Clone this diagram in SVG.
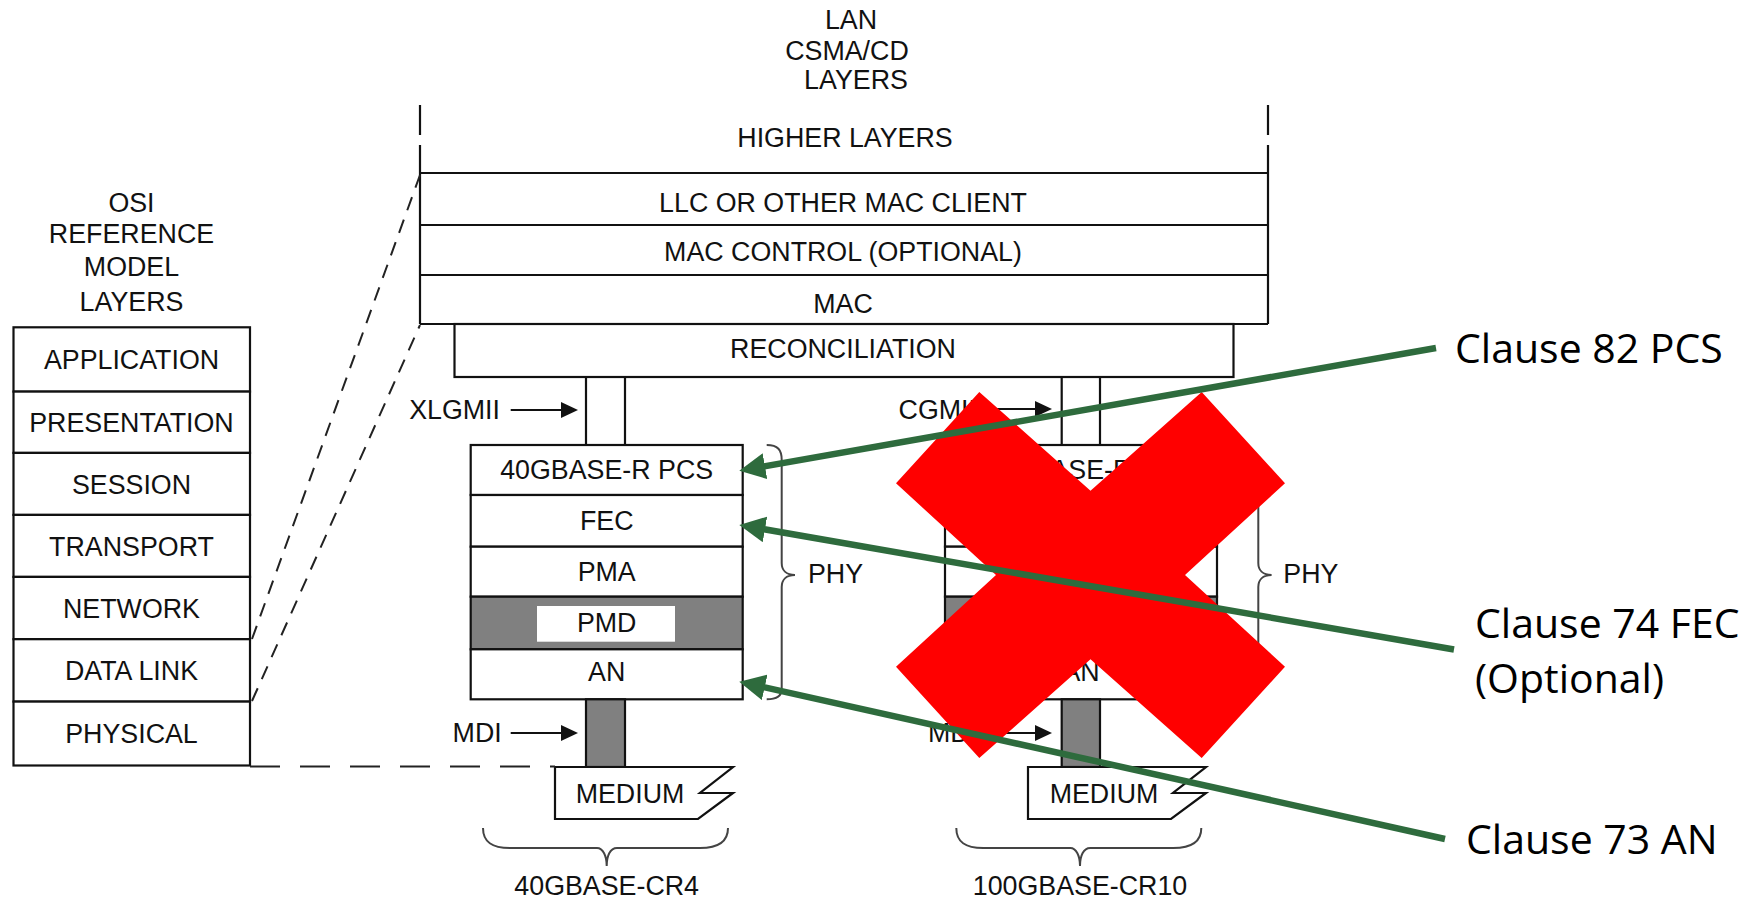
<svg xmlns="http://www.w3.org/2000/svg" width="1762" height="901" viewBox="0 0 1762 901">
<style>
.t{font-family:"Liberation Sans",Arial,sans-serif;font-size:26.8px;fill:#111;text-anchor:middle}
.te{font-family:"Liberation Sans",Arial,sans-serif;font-size:26.8px;fill:#111;text-anchor:end}
.tl{font-family:"Liberation Sans",Arial,sans-serif;font-size:26.8px;fill:#111;text-anchor:start}
.c{font-family:"Open Sans","Noto Sans",sans-serif;font-size:41px;fill:#000}
.ln{stroke:#111;stroke-width:2.2;fill:none}
.box{stroke:#111;stroke-width:2.2;fill:#fff}
.gray{stroke:#111;stroke-width:2.2;fill:#808080}
.dash{stroke:#222;stroke-width:2;fill:none;stroke-dasharray:14 10}
.dashh{stroke:#222;stroke-width:2.2;fill:none;stroke-dasharray:30 20}
.brace{stroke:#444;stroke-width:2;fill:none}
.arr{stroke:#111;stroke-width:2.2;fill:none;marker-end:url(#ba)}
.garr{stroke:#2E6B3D;stroke-width:6.5;fill:none;marker-end:url(#ga)}
</style>
<defs>
<marker id="ba" markerUnits="userSpaceOnUse" markerWidth="18" markerHeight="18" refX="11" refY="8" orient="auto"><path d="M0,0 L17,8 L0,16 z" fill="#111"/></marker>
<marker id="ga" markerUnits="userSpaceOnUse" markerWidth="28" markerHeight="26" refX="10" refY="13" orient="auto"><path d="M0,0 L26,13 L0,26 z" fill="#2E6B3D"/></marker>
</defs>
<rect width="1762" height="901" fill="#fff"/>

<!-- OSI stack -->
<g id="osi-title">
<text class="t" x="131.5" y="212">OSI</text>
<text class="t" x="131.5" y="243">REFERENCE</text>
<text class="t" x="131.5" y="276">MODEL</text>
<text class="t" x="131.5" y="311">LAYERS</text>
</g>
<g id="osi-application"><rect class="box" x="13.5" y="327.3" width="236.5" height="64.3"/><text class="t" x="131.5" y="369">APPLICATION</text></g>
<g id="osi-presentation"><rect class="box" x="13.5" y="391.6" width="236.5" height="61.3"/><text class="t" x="131.5" y="431.5">PRESENTATION</text></g>
<g id="osi-session"><rect class="box" x="13.5" y="452.9" width="236.5" height="62"/><text class="t" x="131.5" y="493.5">SESSION</text></g>
<g id="osi-transport"><rect class="box" x="13.5" y="514.9" width="236.5" height="62"/><text class="t" x="131.5" y="555.5">TRANSPORT</text></g>
<g id="osi-network"><rect class="box" x="13.5" y="576.9" width="236.5" height="62.3"/><text class="t" x="131.5" y="617.5">NETWORK</text></g>
<g id="osi-datalink"><rect class="box" x="13.5" y="639.2" width="236.5" height="62.4"/><text class="t" x="131.5" y="680">DATA LINK</text></g>
<g id="osi-physical"><rect class="box" x="13.5" y="701.6" width="236.5" height="63.9"/><text class="t" x="131.5" y="743">PHYSICAL</text></g>

<!-- LAN CSMA/CD title -->
<g id="lan-title">
<text class="t" x="851" y="29.3">LAN</text>
<text class="t" x="847" y="60">CSMA/CD</text>
<text class="t" x="856" y="89.3">LAYERS</text>
</g>

<!-- LAN stack -->
<g id="higher-layers">
<path class="ln" d="M420,105 V135 M420,145 V324 M1268,105 V135 M1268,145 V324"/>
<text class="t" x="845" y="146.7">HIGHER LAYERS</text>
</g>
<g id="llc"><path class="ln" d="M420,173 H1268"/><text class="t" x="843" y="211.7">LLC OR OTHER MAC CLIENT</text></g>
<g id="mac-control"><path class="ln" d="M420,225 H1268"/><text class="t" x="843" y="260.5">MAC CONTROL (OPTIONAL)</text></g>
<g id="mac"><path class="ln" d="M420,275 H1268 M420,324 H1268"/><text class="t" x="843" y="313">MAC</text></g>
<g id="reconciliation"><rect class="box" x="454.5" y="324" width="779" height="53"/><text class="t" x="843" y="358.3">RECONCILIATION</text></g>

<!-- 40G PHY -->
<g id="pcs40"><rect class="box" x="470.7" y="445" width="272" height="50"/><text class="t" x="606.7" y="478.5">40GBASE-R PCS</text></g>
<g id="fec40"><rect class="box" x="470.7" y="495" width="272" height="51.7"/><text class="t" x="606.7" y="530">FEC</text></g>
<g id="pma40"><rect class="box" x="470.7" y="546.7" width="272" height="50"/><text class="t" x="606.7" y="581">PMA</text></g>
<g id="pmd40"><rect class="gray" x="470.7" y="596.7" width="272" height="52.6"/><rect x="537" y="606" width="138" height="35.7" fill="#fff"/><text class="t" x="606.7" y="632">PMD</text></g>
<g id="an40"><rect class="box" x="470.7" y="649.3" width="272" height="50"/><text class="t" x="606.7" y="681">AN</text></g>
<g id="mdi40bar"><rect class="gray" x="586" y="699.3" width="39" height="67.7"/></g>
<g id="medium40"><path class="box" d="M555,767 L733,767 L700,793 L733,793 L698,819 L555,819 Z"/><text class="t" x="630" y="802.7">MEDIUM</text></g>
<g id="phy40"><path class="brace" d="M766.7,445 C778,445 781.7,450 781.7,460 L781.7,563 C781.7,570 786,575 795,575 C786,575 781.7,580 781.7,587 L781.7,689 C781.7,695 778,699.3 766.7,699.3"/><text class="tl" x="808" y="583.3">PHY</text></g>
<g id="cr4"><path class="brace" d="M483,828 C483,842 492,848 510,848 L597,848 C603,848 606.7,856 606.7,866 C606.7,856 610,848 617,848 L700,848 C718,848 728,842 728,828"/><text class="t" x="606.7" y="895">40GBASE-CR4</text></g>
<g id="xlgmii-label"><text class="te" x="500" y="419">XLGMII</text></g>
<g id="mdi40-label"><text class="te" x="501.7" y="742">MDI</text></g>

<!-- 100G PHY -->
<g id="pcs100"><rect class="box" x="945" y="445" width="272" height="50"/><text class="t" x="1081" y="478.5">100GBASE-R PCS</text></g>
<g id="fec100"><rect class="box" x="945" y="495" width="272" height="51.7"/><text class="t" x="1081" y="530">FEC</text></g>
<g id="pma100"><rect class="box" x="945" y="546.7" width="272" height="50"/><text class="t" x="1081" y="581">PMA</text></g>
<g id="pmd100"><rect class="gray" x="945" y="596.7" width="272" height="52.6"/><rect x="1011.3" y="606" width="138" height="35.7" fill="#fff"/><text class="t" x="1081" y="632">PMD</text></g>
<g id="an100"><rect class="box" x="945" y="649.3" width="272" height="50"/><text class="t" x="1081" y="681">AN</text></g>
<g id="mdi100bar"><rect class="gray" x="1061.7" y="699.3" width="38.3" height="67.7"/></g>
<g id="medium100"><path class="box" d="M1028,767 L1206,767 L1173,793 L1206,793 L1171,819 L1028,819 Z"/><text class="t" x="1104" y="802.7">MEDIUM</text></g>
<g id="phy100"><path class="brace" d="M1246,452 C1255,453 1258.3,458 1258.3,468 L1258.3,563 C1258.3,570 1262.6,575 1271.6,575 C1262.6,575 1258.3,580 1258.3,587 L1258.3,682 C1258.3,688 1255,692 1246,693"/><text class="tl" x="1283.3" y="583.3">PHY</text></g>
<g id="cr10"><path class="brace" d="M956.3,828 C956.3,842 965.3,848 983.3,848 L1070.3,848 C1076.3,848 1080,856 1080,866 C1080,856 1083.3,848 1090.3,848 L1173.3,848 C1191.3,848 1201.3,842 1201.3,828"/><text class="t" x="1080" y="895">100GBASE-CR10</text></g>
<g id="cgmii-label"><text class="te" x="976" y="419">CGMII</text></g>
<g id="mdi100-label"><text class="te" x="977" y="742">MDI</text></g>

<!-- connectors -->
<g id="connectors">
<path class="dash" d="M252,639 L420,175"/>
<path class="dash" d="M252,701 L420,325"/>
<path class="dashh" d="M250,766.5 L555,766.5"/>
<path class="ln" d="M586,377 V445 M625,377 V445"/>
<path class="ln" d="M1061.7,377 V445 M1100,377 V445"/>
<path class="arr" d="M510.7,410 H572"/>
<path class="arr" d="M510.7,733 H572"/>
<path class="arr" d="M986,409 H1046"/>
<path class="arr" d="M986,733 H1046"/>
</g>

<!-- red X overlay -->
<g id="red-x">
<polygon points="896,483.3 979.3,392 1090.5,490.7 1201.7,392 1285,483.3 1185,575 1285,666.7 1201.7,758 1090.5,659.3 979.3,758 896,666.7 996,575" fill="#FF0000"/>
</g>

<!-- green callouts -->
<g id="callouts">
<path class="garr" d="M1436,348 L755.1,467.9"/>
<path class="garr" d="M1454,649.5 L755.1,527.7"/>
<path class="garr" d="M1445,839 L754.9,685.2"/>
</g>
<g id="clause82"><text class="c" x="1455" y="363">Clause 82 PCS</text></g>
<g id="clause74"><text class="c" x="1475" y="638">Clause 74 FEC</text><text class="c" x="1475" y="693">(Optional)</text></g>
<g id="clause73"><text class="c" x="1466" y="854">Clause 73 AN</text></g>
</svg>
